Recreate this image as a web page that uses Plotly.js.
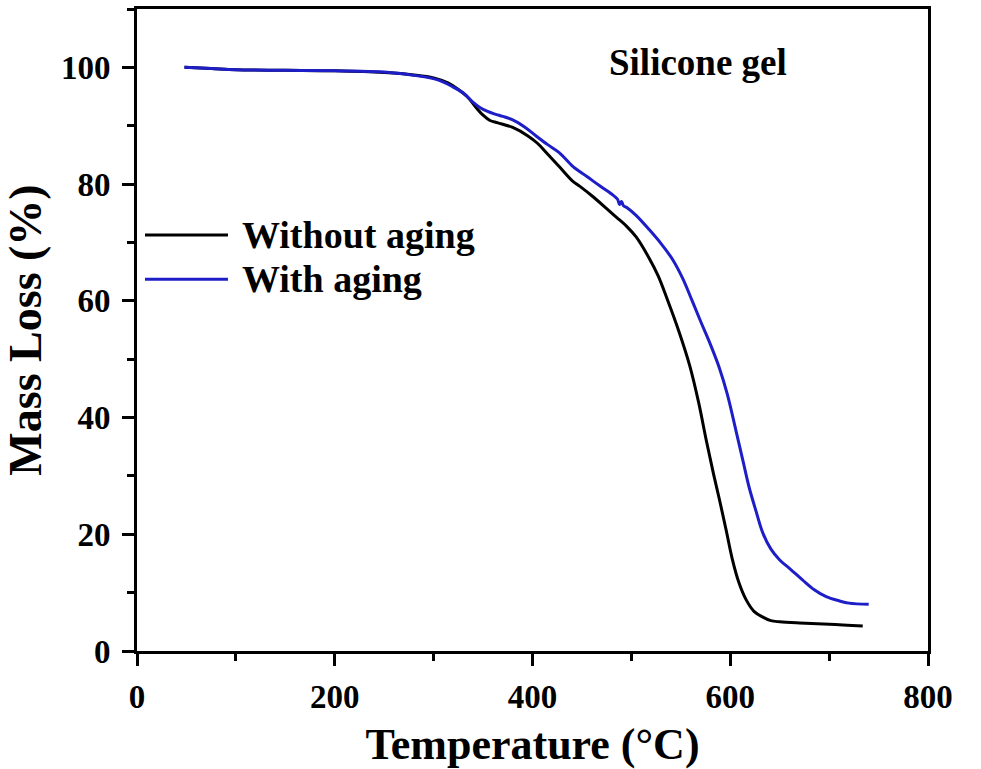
<!DOCTYPE html>
<html>
<head>
<meta charset="utf-8">
<script src="https://cdn.plot.ly/plotly-3.0.1.min.js"></script>
<style>html,body{margin:0;padding:0;background:#fff;}#chart{width:981px;height:769px;}</style>
</head>
<body>
<div id="chart"></div>
<script>
// Without aging (black)
const tempWithout = [48, 75, 100, 150, 200, 250, 280, 300, 315, 325, 335, 343, 350, 357, 365, 380, 395, 405, 415, 427, 440, 448, 460, 475, 485, 495, 505, 518, 527, 536, 548, 559, 568, 576, 583, 589, 596, 602, 609, 616, 624, 633, 641, 650, 670, 700, 734];
const massWithout = [100, 99.8, 99.6, 99.5, 99.4, 99.1, 98.7, 98.2, 97.3, 96.2, 94.8, 93.1, 91.8, 90.9, 90.5, 89.7, 88.3, 87.0, 85.2, 83.0, 80.6, 79.6, 78.0, 75.8, 74.3, 72.8, 70.9, 67.3, 64.3, 60.4, 54.8, 48.9, 42.6, 35.9, 30.4, 26.0, 20.6, 15.8, 11.6, 8.8, 6.8, 5.8, 5.2, 5.0, 4.8, 4.6, 4.3];
// With aging (blue)
const tempWith = [48, 75, 100, 150, 200, 250, 286, 305, 319, 330, 340, 348, 354, 362, 370, 380, 392, 404, 415, 427, 441, 455, 468, 480, 486, 488, 490, 492, 496, 505, 518, 530, 542, 552, 561, 570, 580, 589, 597, 606, 613, 619, 626, 633, 641, 650, 661, 673, 685, 697, 710, 720, 740];
const massWith = [100, 99.8, 99.6, 99.5, 99.4, 99.2, 98.5, 97.8, 96.7, 95.6, 94.0, 93.0, 92.5, 92.0, 91.6, 91.0, 89.8, 88.2, 86.8, 85.4, 83.0, 81.3, 79.7, 78.3, 77.4, 76.5, 77.0, 76.3, 75.9, 74.6, 72.2, 69.8, 67.0, 63.8, 60.2, 56.5, 52.5, 48.5, 44.0, 37.6, 32.5, 28.1, 24.0, 20.2, 17.5, 15.6, 14.0, 12.2, 10.5, 9.3, 8.6, 8.2, 8.0];

const seriesNames = ["Without aging", "With aging"];
const seriesColors = ["#000000", "#1e1ec8"];
const xTickVals = [0, 200, 400, 600, 800];
const yTickVals = [0, 20, 40, 60, 80, 100];

const FONT = "Liberation Serif, Times New Roman, serif";

const traces = [
  {x: tempWithout, y: massWithout, name: seriesNames[0], mode: "lines",
   line: {color: seriesColors[0], width: 3, shape: "spline", smoothing: 1}},
  {x: tempWith, y: massWith, name: seriesNames[1], mode: "lines",
   line: {color: seriesColors[1], width: 3, shape: "spline", smoothing: 1}}
];

const axisCommon = {
  showline: true, linecolor: "#000", linewidth: 3, mirror: true,
  ticks: "outside", ticklen: 12, tickwidth: 3, tickcolor: "#000",
  showgrid: false, zeroline: false,
  tickfont: {family: FONT, size: 33, color: "#000", weight: "bold"}
};

const layout = {
  width: 981, height: 769,
  margin: {l: 137, r: 53, t: 9, b: 118},
  paper_bgcolor: "#fff", plot_bgcolor: "#fff",
  showlegend: false,
  font: {family: FONT, color: "#000"},
  xaxis: Object.assign({}, axisCommon, {
    range: [0, 800], tickvals: xTickVals, ticklabelstandoff: 2,
    minor: {dtick: 100, ticks: "outside", ticklen: 7, tickwidth: 3, tickcolor: "#000", showgrid: false},
    title: {text: "<b>Temperature (°C)</b>", font: {family: FONT, size: 44, color: "#000"}, standoff: 16}
  }),
  yaxis: Object.assign({}, axisCommon, {
    range: [0, 110], tickvals: yTickVals, ticklabelstandoff: 5,
    minor: {dtick: 10, ticks: "outside", ticklen: 7, tickwidth: 3, tickcolor: "#000", showgrid: false},
    title: {text: "<b>Mass Loss (%)</b>", font: {family: FONT, size: 46, color: "#000"}, standoff: 16}
  }),
  shapes: [
    {type: "line", xref: "paper", yref: "paper", x0: 0.0101, x1: 0.115, y0: 0.648, y1: 0.648,
     line: {color: seriesColors[0], width: 3}},
    {type: "line", xref: "paper", yref: "paper", x0: 0.0101, x1: 0.115, y0: 0.579, y1: 0.579,
     line: {color: seriesColors[1], width: 3}}
  ],
  annotations: [
    {text: "<b>" + seriesNames[0] + "</b>", xref: "paper", yref: "paper", x: 0.1300, y: 0.648,
     xanchor: "left", yanchor: "middle", showarrow: false, font: {family: FONT, size: 38, color: "#000"}},
    {text: "<b>" + seriesNames[1] + "</b>", xref: "paper", yref: "paper", x: 0.1300, y: 0.579,
     xanchor: "left", yanchor: "middle", showarrow: false, font: {family: FONT, size: 38, color: "#000"}},
    {text: "<b>Silicone gel</b>", xref: "paper", yref: "paper", x: 0.709, y: 0.916,
     xanchor: "center", yanchor: "middle", showarrow: false, font: {family: FONT, size: 37, color: "#000"}}
  ]
};

Plotly.newPlot("chart", traces, layout, {staticPlot: true, displayModeBar: false});
</script>
</body>
</html>
